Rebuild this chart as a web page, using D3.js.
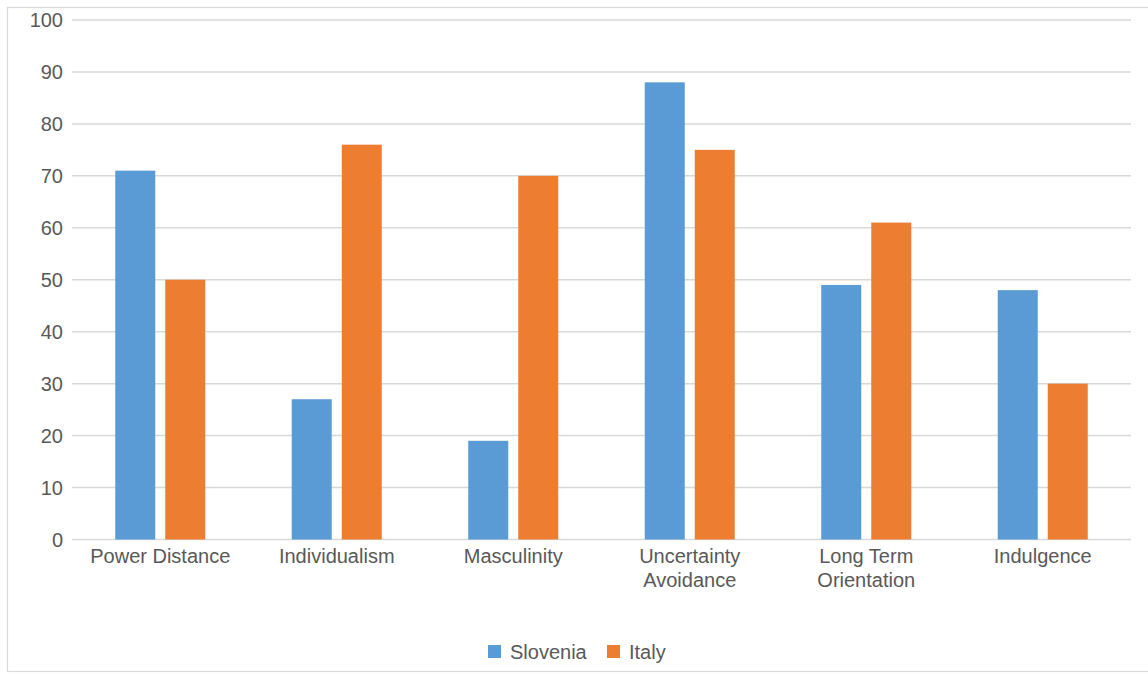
<!DOCTYPE html>
<html>
<head>
<meta charset="utf-8">
<script src="https://cdn.jsdelivr.net/npm/d3@7"></script>
<style>
  html, body { margin: 0; padding: 0; background: #fff; }
  svg { display: block; }
  text { font-family: "Liberation Sans", "DejaVu Sans", sans-serif; fill: #595959; }
</style>
</head>
<body>
<svg id="chart" width="1148" height="674"></svg>
<script>
// Hofstede cultural dimensions: Slovenia vs Italy
const categories = [
  ["Power Distance"],
  ["Individualism"],
  ["Masculinity"],
  ["Uncertainty", "Avoidance"],
  ["Long Term", "Orientation"],
  ["Indulgence"]
];
const seriesNames = ["Slovenia", "Italy"];
const slovenia = [71, 27, 19, 88, 49, 48];
const italy = [50, 76, 70, 75, 61, 30];
const yTicks = [0, 10, 20, 30, 40, 50, 60, 70, 80, 90, 100];
const colors = ["#5b9bd5", "#ed7d31"];

const svg = d3.select("#chart");
const W = 1148, H = 674;
const plot = { left: 72, right: 1131, top: 20, bottom: 539.5 };

// outer chart frame
svg.append("rect")
  .attr("x", 7.5).attr("y", 7.5)
  .attr("width", W + 10).attr("height", 664)
  .attr("fill", "none").attr("stroke", "#d9d9d9").attr("stroke-width", 1.2);

const keys = categories.map(c => c.join(" "));
const x = d3.scaleBand().domain(keys).range([plot.left, plot.right]);
// the two bars sit in the middle ~51% of each category slot
const half = x.bandwidth() * 0.255;
const x1 = d3.scaleBand().domain(seriesNames)
  .range([x.bandwidth() / 2 - half, x.bandwidth() / 2 + half])
  .paddingInner(0.2);
const y = d3.scaleLinear().domain([0, 100]).range([plot.bottom, plot.top]);

// horizontal gridlines
svg.append("g").selectAll("line").data(yTicks).join("line")
  .attr("x1", plot.left).attr("x2", plot.right)
  .attr("y1", d => y(d)).attr("y2", d => y(d))
  .attr("stroke", "#d9d9d9").attr("stroke-width", 1.5);

// y tick labels
svg.append("g").selectAll("text").data(yTicks).join("text")
  .attr("x", 63).attr("y", d => y(d))
  .attr("dy", "0.35em")
  .attr("text-anchor", "end")
  .style("font-size", "20px")
  .text(d => d);

// bars
const rows = keys.map((k, i) => ({ key: k, values: [slovenia[i], italy[i]] }));
const groups = svg.append("g").selectAll("g").data(rows).join("g")
  .attr("transform", d => `translate(${x(d.key)},0)`);
groups.selectAll("rect")
  .data(d => d.values.map((v, j) => ({ name: seriesNames[j], value: v, j })))
  .join("rect")
  .attr("x", d => x1(d.name))
  .attr("width", x1.bandwidth())
  .attr("y", d => y(d.value))
  .attr("height", d => y(0) - y(d.value))
  .attr("fill", d => colors[d.j]);

// category labels
const labels = svg.append("g").selectAll("text").data(categories).join("text")
  .attr("x", (d, i) => x(keys[i]) + x.bandwidth() / 2)
  .attr("y", 563)
  .attr("text-anchor", "middle")
  .style("font-size", "20px");
labels.selectAll("tspan").data(d => d).join("tspan")
  .attr("x", function () { return d3.select(this.parentNode).attr("x"); })
  .attr("dy", (d, i) => i === 0 ? 0 : 24)
  .text(d => d);

// legend
const legend = svg.append("g");
const legendItems = [
  { name: seriesNames[0], color: colors[0], x: 488 },
  { name: seriesNames[1], color: colors[1], x: 607 }
];
const li = legend.selectAll("g").data(legendItems).join("g")
  .attr("transform", d => `translate(${d.x},645)`);
li.append("rect").attr("width", 13).attr("height", 13).attr("fill", d => d.color);
li.append("text").attr("x", 22).attr("y", 6.5).attr("dy", "0.35em")
  .style("font-size", "20px").text(d => d.name);
</script>
</body>
</html>
